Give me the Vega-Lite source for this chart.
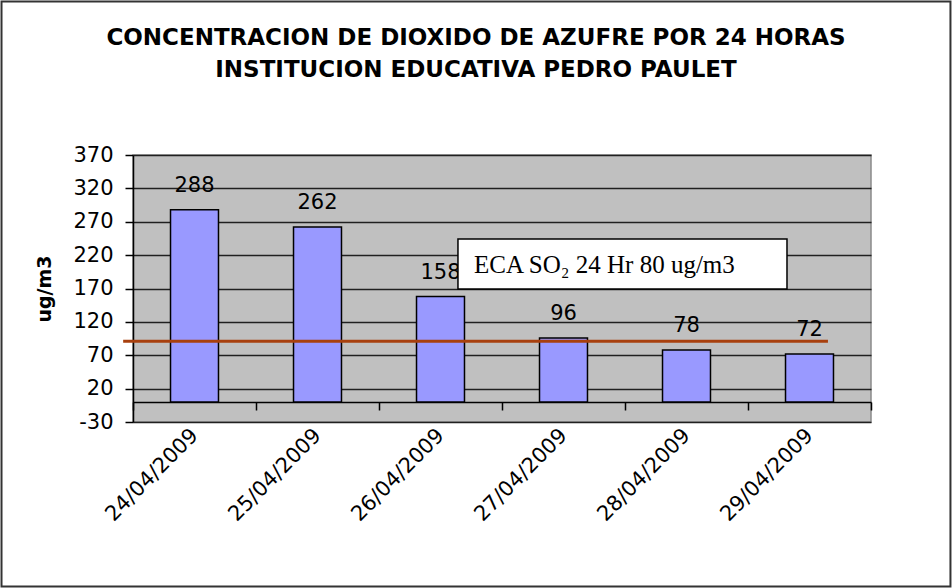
{
  "$schema": "https://vega.github.io/schema/vega-lite/v6.json",
  "width": 738,
  "height": 267,
  "autosize": {"type": "none"},
  "padding": {"left": 133, "top": 155, "right": 81, "bottom": 166},
  "background": "white",
  "title": {
    "text": ["CONCENTRACION DE DIOXIDO DE AZUFRE POR 24 HORAS", "INSTITUCION EDUCATIVA PEDRO PAULET"],
    "font": "DejaVu Sans",
    "fontWeight": "bold",
    "fontSize": 23,
    "lineHeight": 32,
    "color": "black",
    "anchor": "middle",
    "frame": "group",
    "baseline": "bottom",
    "offset": -105,
    "dx": -26
  },
  "config": {
    "view": {"fill": "#C0C0C0", "stroke": "#8a8a8a", "strokeWidth": 1.5},
    "axisY": {
      "values": [-30, 20, 70, 120, 170, 220, 270, 320, 370],
      "tickCount": 12,
      "labelOverlap": false,
      "labelExpr": "replace(datum.label, '−', '-')",
      "titleFont": "DejaVu Sans", "titleFontWeight": "bold", "titleFontSize": 19, "titleColor": "black",
      "titlePadding": 18,
      "labelFont": "DejaVu Sans", "labelFontSize": 21, "labelColor": "black",
      "labelPadding": 12,
      "tickSize": 8, "tickColor": "black", "tickWidth": 1.5,
      "domainColor": "black", "domainWidth": 1.5,
      "grid": true, "gridColor": "#202020", "gridWidth": 1.5
    }
  },
  "resolve": {"scale": {"x": "independent"}, "axis": {"x": "independent"}},
  "layer": [
    {
      "data": {"values": [{}]},
      "mark": {"type": "rect", "fill": null, "stroke": "#333333", "strokeWidth": 2},
      "encoding": {
        "x": {"datum": -1.069, "type": "quantitative", "scale": {"domain": [0, 6], "nice": false, "zero": false}, "axis": null},
        "x2": {"datum": 6.646},
        "y": {"datum": 600, "type": "quantitative", "scale": {"domain": [-30, 370], "nice": false, "zero": false}, "title": "ug/m3", "axis": {"title": "ug/m3", "values": [-30, 20, 70, 120, 170, 220, 270, 320, 370], "tickCount": 12}},
        "y2": {"datum": -276.4}
      }
    },
    {
      "data": {"values": [
        {"fecha": "24/04/2009", "valor": 288},
        {"fecha": "25/04/2009", "valor": 262},
        {"fecha": "26/04/2009", "valor": 158},
        {"fecha": "27/04/2009", "valor": 96},
        {"fecha": "28/04/2009", "valor": 78},
        {"fecha": "29/04/2009", "valor": 72}
      ]},
      "layer": [
        {
          "mark": {"type": "bar", "fill": "#9999FF", "stroke": "black", "strokeWidth": 1.5, "width": {"band": 0.39}},
          "encoding": {
            "x": {
              "field": "fecha", "type": "nominal", "sort": null,
              "scale": {"paddingInner": 0, "paddingOuter": 0},
              "axis": {
                "title": null,
                "offset": -20,
                "tickBand": "extent",
                "domainColor": "black", "domainWidth": 1.5,
                "tickColor": "black", "tickWidth": 1.5, "tickSize": 8,
                "labelAngle": -45, "labelAlign": "right", "labelBaseline": "middle",
                "labelPadding": 22,
                "labelFont": "DejaVu Sans", "labelFontSize": 21, "labelColor": "black",
                "grid": false
              }
            },
            "y": {
              "field": "valor", "type": "quantitative", "title": "ug/m3",
              "axis": {"title": "ug/m3", "values": [-30, 20, 70, 120, 170, 220, 270, 320, 370], "tickCount": 12}
            }
          }
        },
        {
          "mark": {"type": "text", "font": "DejaVu Sans", "fontSize": 21, "color": "black", "baseline": "alphabetic", "dy": -18},
          "encoding": {
            "x": {"field": "fecha", "type": "nominal", "sort": null},
            "y": {"field": "valor", "type": "quantitative"},
            "text": {"field": "valor", "type": "quantitative"}
          }
        }
      ]
    },
    {
      "data": {"values": [{}]},
      "mark": {"type": "rule", "stroke": "#A8400E", "strokeWidth": 3},
      "encoding": {
        "x": {"datum": -0.08, "type": "quantitative", "scale": {"domain": [0, 6], "nice": false, "zero": false}, "axis": null},
        "x2": {"datum": 5.65},
        "y": {"datum": 91, "type": "quantitative"}
      }
    },
    {
      "data": {"values": [{}]},
      "mark": {"type": "rect", "fill": "white", "stroke": "black", "strokeWidth": 1.5},
      "encoding": {
        "x": {"datum": 2.642, "type": "quantitative", "scale": {"domain": [0, 6], "nice": false, "zero": false}, "axis": null},
        "x2": {"datum": 5.317},
        "y": {"datum": 244, "type": "quantitative"},
        "y2": {"datum": 169.3}
      }
    },
    {
      "data": {"values": [{"texto": "ECA SO₂ 24 Hr 80 ug/m3"}]},
      "mark": {"type": "text", "font": "Liberation Serif", "fontSize": 25, "color": "black", "align": "left", "baseline": "alphabetic"},
      "encoding": {
        "x": {"datum": 2.772, "type": "quantitative", "scale": {"domain": [0, 6], "nice": false, "zero": false}, "axis": null},
        "y": {"datum": 192.8, "type": "quantitative"},
        "text": {"field": "texto", "type": "nominal"}
      }
    }
  ]
}
